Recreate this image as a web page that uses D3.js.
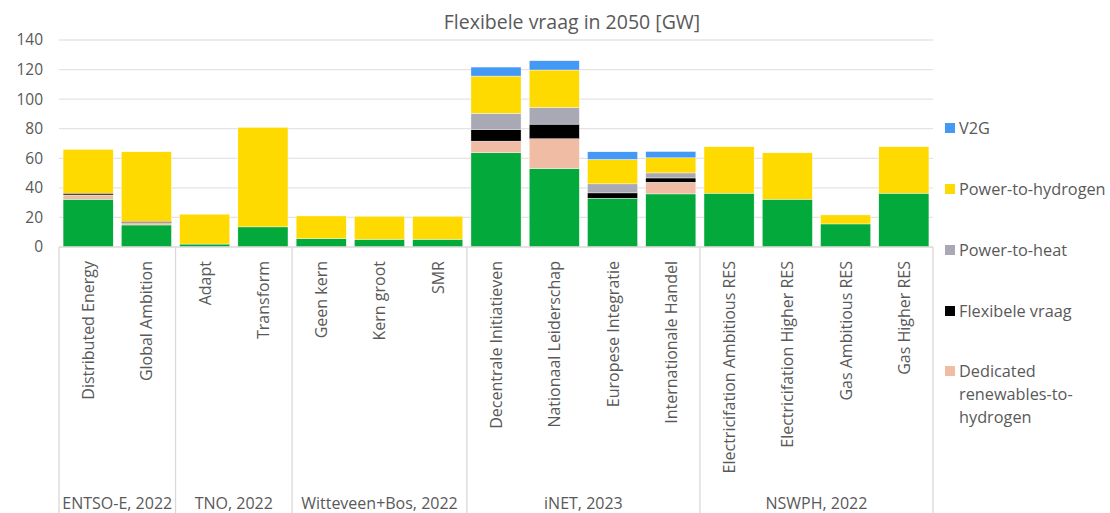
<!DOCTYPE html>
<html>
<head>
<meta charset="utf-8">
<script src="https://cdn.jsdelivr.net/npm/d3@7/dist/d3.min.js"></script>
<style>
  body { margin: 0; background: #fff; }
  text { font-family: "Open Sans", sans-serif; fill: #595959; }
</style>
</head>
<body>
<div id="chart"></div>
<script>
// categories and their groups
const categories = ['Distributed Energy', 'Global Ambition', 'Adapt', 'Transform', 'Geen kern', 'Kern groot', 'SMR',
  'Decentrale Initiatieven', 'Nationaal Leiderschap', 'Europese Integratie', 'Internationale Handel',
  'Electricifation Ambitious RES', 'Electricifation Higher RES', 'Gas Ambitious RES', 'Gas Higher RES'];
const groups = ['ENTSO-E, 2022', 'TNO, 2022', 'Witteveen+Bos, 2022', 'iNET, 2023', 'NSWPH, 2022'];
const groupSizes = [2, 2, 3, 4, 4];

// series values (GW), bottom to top
const overig = [32.3, 14.9, 2.0, 13.6, 5.7, 5.2, 5.2, 63.7, 53.1, 33.0, 35.9, 36.4, 32.3, 15.6, 36.4];
const dedicated = [2.9, 1.6, 0, 0, 0, 0, 0, 7.9, 20.1, 0, 7.9, 0, 0, 0, 0];
const flexibeleVraag = [1.2, 0.9, 0, 0, 0, 0, 0, 7.9, 9.9, 3.6, 2.9, 0, 0, 0, 0];
const powerToHeat = [0, 0, 0, 0, 0, 0, 0, 10.9, 11.3, 6.1, 3.4, 0, 0, 0, 0];
const powerToHydrogen = [29.6, 47.0, 20.2, 67.3, 15.3, 15.6, 15.6, 25.2, 25.3, 16.5, 10.2, 31.4, 31.4, 6.1, 31.4];
const v2g = [0, 0, 0, 0, 0, 0, 0, 6.1, 6.3, 5.2, 4.3, 0, 0, 0, 0];

const yTicks = [0, 20, 40, 60, 80, 100, 120, 140];

const series = [
  { key: 'overig', label: 'Overig', values: overig, color: '#03A93A', legend: false },
  { key: 'dedicated', label: ['Dedicated', 'renewables-to-', 'hydrogen'], values: dedicated, color: '#F0BCA3', legend: true },
  { key: 'flex', label: ['Flexibele vraag'], values: flexibeleVraag, color: '#000000', legend: true },
  { key: 'heat', label: ['Power-to-heat'], values: powerToHeat, color: '#A9A8B5', legend: true },
  { key: 'h2', label: ['Power-to-hydrogen'], values: powerToHydrogen, color: '#FFDA00', legend: true },
  { key: 'v2g', label: ['V2G'], values: v2g, color: '#4499F5', legend: true }
];

const width = 1110, height = 513;
const margin = { top: 40, left: 59, right: 177, bottom: 266 };
const innerW = width - margin.left - margin.right;
const innerH = height - margin.top - margin.bottom;

const svg = d3.select('#chart').append('svg')
  .attr('width', width).attr('height', height);

const g = svg.append('g').attr('transform', 'translate(' + margin.left + ',' + margin.top + ')');

const x = d3.scaleBand().domain(categories).range([0, innerW]).paddingInner(0.14).paddingOuter(0.07);
const y = d3.scaleLinear().domain([0, 140]).range([innerH, 0]);

// title
svg.append('text')
  .attr('x', 572).attr('y', 29)
  .attr('text-anchor', 'middle')
  .style('font-size', '19.5px')
  .text('Flexibele vraag in 2050 [GW]');

// gridlines + y labels
g.append('g')
  .selectAll('line')
  .data(yTicks.slice(1))
  .enter().append('line')
  .attr('x1', 0).attr('x2', innerW)
  .attr('y1', d => y(d)).attr('y2', d => y(d))
  .attr('stroke', '#E4E4E4').attr('stroke-width', 1.3);

g.append('g')
  .selectAll('text')
  .data(yTicks)
  .enter().append('text')
  .attr('x', -16).attr('y', d => y(d))
  .attr('dy', '0.35em')
  .attr('text-anchor', 'end')
  .style('font-size', '15.5px')
  .text(d => d);

// stacked bars
const rows = categories.map((c, i) => {
  const r = { cat: c };
  series.forEach(s => { r[s.key] = s.values[i]; });
  return r;
});
const stack = d3.stack().keys(series.map(s => s.key))(rows);

g.append('g')
  .selectAll('g')
  .data(stack)
  .enter().append('g')
  .attr('fill', (d, i) => series[i].color)
  .selectAll('rect')
  .data(d => d.filter(p => p[1] - p[0] > 0))
  .enter().append('rect')
  .attr('x', d => x(d.data.cat))
  .attr('width', x.bandwidth())
  .attr('y', d => y(d[1]))
  .attr('height', d => y(d[0]) - y(d[1]))
  .attr('stroke', '#fff')
  .attr('stroke-width', 0.4);

// axis line
g.append('line')
  .attr('x1', 0).attr('x2', innerW)
  .attr('y1', innerH).attr('y2', innerH)
  .attr('stroke', '#D9D9D9').attr('stroke-width', 1.3);

// category labels (rotated)
g.append('g')
  .selectAll('text')
  .data(categories)
  .enter().append('text')
  .attr('transform', d => 'translate(' + (x(d) + x.bandwidth() / 2 + 6) + ',' + (innerH + 14) + ') rotate(-90)')
  .attr('text-anchor', 'end')
  .style('font-size', '16px')
  .text(d => d);

// group separators and labels
let start = 0;
const bounds = [0];
groupSizes.forEach(n => { start += n; bounds.push(start); });

g.append('g')
  .selectAll('line')
  .data(bounds)
  .enter().append('line')
  .attr('x1', d => d * innerW / categories.length)
  .attr('x2', d => d * innerW / categories.length)
  .attr('y1', innerH).attr('y2', height - margin.top)
  .attr('stroke', '#D9D9D9').attr('stroke-width', 1.3);

g.append('g')
  .selectAll('text')
  .data(groups)
  .enter().append('text')
  .attr('x', (d, i) => (bounds[i] + bounds[i + 1]) / 2 * innerW / categories.length)
  .attr('y', height - margin.top - 4)
  .attr('text-anchor', 'middle')
  .style('font-size', '16px')
  .text(d => d);

// legend (top to bottom)
const legendItems = series.filter(s => s.legend).reverse();
const lg = svg.append('g').attr('transform', 'translate(945,0)');
const legendY = [128, 189, 250, 311, 371];

legendItems.forEach((s, i) => {
  const item = lg.append('g').attr('transform', 'translate(0,' + legendY[i] + ')');
  item.append('rect')
    .attr('x', 0).attr('y', -5)
    .attr('width', 10).attr('height', 10)
    .attr('fill', s.color);
  s.label.forEach((t, j) => {
    item.append('text')
      .attr('x', 14).attr('y', j * 23)
      .attr('dy', '0.35em')
      .style('font-size', '16.3px')
      .text(t);
  });
});
</script>
</body>
</html>
